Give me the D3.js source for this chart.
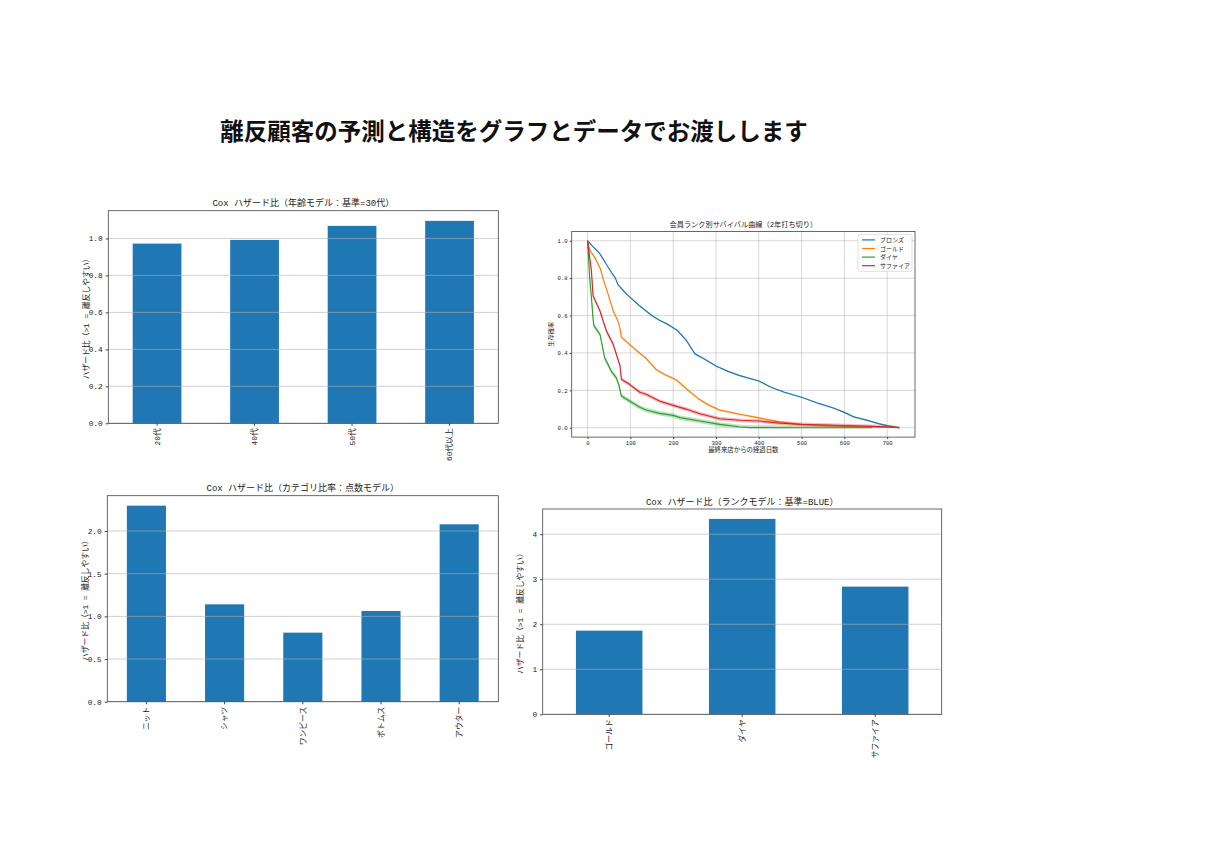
<!DOCTYPE html>
<html>
<head>
<meta charset="utf-8">
<script src="https://cdn.jsdelivr.net/npm/d3@7"></script>
<style>
  body { margin: 0; background: #fff; }
  svg { display: block; }
  text { font-family: "Liberation Mono", "Noto Sans CJK JP", monospace; fill: #222; }
  text.main { font-family: "Noto Sans CJK JP", "Noto Sans", sans-serif; }
</style>
</head>
<body>
<svg id="fig" width="1220" height="862"></svg>
<script>
// ---- data ----
const pageTitle = "離反顧客の予測と構造をグラフとデータでお渡しします";

const ageCategories = ["20代", "40代", "50代", "60代以上"];
const ageHazard = [0.972, 0.992, 1.068, 1.095];
const ageTicks = [0.0, 0.2, 0.4, 0.6, 0.8, 1.0];

const itemCategories = ["ニット", "シャツ", "ワンピース", "ボトムス", "アウター"];
const itemHazard = [2.297, 1.141, 0.809, 1.063, 2.079];
const itemTicks = [0.0, 0.5, 1.0, 1.5, 2.0];

const rankCategories = ["ゴールド", "ダイヤ", "サファイア"];
const rankHazard = [1.858, 4.34, 2.836];
const rankTicks = [0, 1, 2, 3, 4];

const survivalNames = ["ブロンズ", "ゴールド", "ダイヤ", "サファイア"];
const survivalColors = ["#1f77b4", "#ff7f0e", "#2ca02c", "#d62728"];
const bandHalfWidth = [0.004, 0.006, 0.012, 0.01];
const dayTicks = [0, 100, 200, 300, 400, 500, 600, 700];
const probTicks = [0.0, 0.2, 0.4, 0.6, 0.8, 1.0];

const bronzeDays = [0, 10, 29, 45, 56, 65, 71, 85, 98, 120, 150, 168, 190, 210, 230, 251, 275, 300, 330, 354, 400, 430, 460, 500, 540, 576, 600, 622, 650, 680, 700, 729];
const bronzeSurv = [1.0, 0.975, 0.93, 0.87, 0.83, 0.80, 0.765, 0.73, 0.70, 0.655, 0.60, 0.575, 0.55, 0.52, 0.47, 0.395, 0.365, 0.33, 0.30, 0.28, 0.25, 0.215, 0.19, 0.163, 0.13, 0.104, 0.082, 0.058, 0.042, 0.022, 0.011, 0.0];

const goldDays = [0, 5, 17, 30, 36, 50, 60, 71, 76, 79, 98, 122, 137, 161, 180, 208, 230, 258, 280, 309, 356, 400, 448, 495, 550, 600, 650, 700, 730];
const goldSurv = [1.0, 0.95, 0.91, 0.85, 0.80, 0.70, 0.625, 0.57, 0.53, 0.485, 0.446, 0.398, 0.37, 0.31, 0.285, 0.255, 0.21, 0.157, 0.125, 0.094, 0.072, 0.053, 0.031, 0.018, 0.012, 0.008, 0.005, 0.003, 0.0];

const diamondDays = [0, 5, 9, 13, 15, 29, 40, 56, 67, 73, 79, 98, 122, 137, 168, 200, 216, 262, 309, 356, 380, 500, 600, 665];
const diamondSurv = [1.0, 0.80, 0.70, 0.58, 0.545, 0.50, 0.375, 0.30, 0.268, 0.23, 0.17, 0.143, 0.11, 0.095, 0.077, 0.066, 0.054, 0.036, 0.018, 0.004, 0.001, 0.0, 0.0, 0.0];

const sapphireDays = [0, 9, 13, 29, 44, 60, 71, 76, 79, 98, 122, 137, 168, 200, 230, 262, 309, 356, 400, 450, 500, 600, 700, 728];
const sapphireSurv = [1.0, 0.84, 0.705, 0.625, 0.518, 0.446, 0.366, 0.33, 0.26, 0.232, 0.19, 0.179, 0.143, 0.12, 0.10, 0.075, 0.048, 0.04, 0.036, 0.025, 0.018, 0.012, 0.005, 0.0];

const survivalDays = [bronzeDays, goldDays, diamondDays, sapphireDays];
const survivalProb = [bronzeSurv, goldSurv, diamondSurv, sapphireSurv];

const yLabelHazard = "ハザード比（>1 = 離反しやすい）";

// ---- drawing ----
const svg = d3.select("#fig");
const tickFont = "'Liberation Mono', 'Noto Sans CJK JP', monospace";

svg.append("text")
    .attr("class", "main")
    .attr("x", 514).attr("y", 140)
    .attr("text-anchor", "middle")
    .attr("font-size", "23.5px")
    .attr("font-weight", "bold")
    .style("fill", "#111")
    .text(pageTitle);

function frame(g, box) {
    g.append("rect")
        .attr("x", box.left).attr("y", box.top)
        .attr("width", box.right - box.left).attr("height", box.bottom - box.top)
        .attr("fill", "none").attr("stroke", "#444").attr("stroke-width", 0.8);
}

function barChart(box, cats, vals, yMax, ticks, fmt, title) {
    const g = svg.append("g");

    const x = d3.scaleBand()
        .domain(cats)
        .range([box.left, box.right])
        .paddingInner(0.5)
        .paddingOuter(0.25);

    const y = d3.scaleLinear()
        .domain([0, yMax])
        .range([box.bottom, box.top]);

    // Bars
    g.selectAll("rect.bar")
        .data(vals)
        .enter()
        .append("rect")
        .attr("class", "bar")
        .attr("x", (d, i) => x(cats[i]))
        .attr("y", d => y(d))
        .attr("width", x.bandwidth())
        .attr("height", d => y(0) - y(d))
        .attr("fill", "#1f77b4");

    // Horizontal grid on top of the bars (matplotlib default)
    g.selectAll("line.grid")
        .data(ticks)
        .enter()
        .append("line")
        .attr("x1", box.left).attr("x2", box.right)
        .attr("y1", d => y(d)).attr("y2", d => y(d))
        .attr("stroke", "#b0b0b0")
        .attr("stroke-opacity", 0.75)
        .attr("stroke-width", 0.8);

    // Y axis
    const yAxis = g.append("g")
        .attr("transform", `translate(${box.left}, 0)`)
        .call(d3.axisLeft(y).tickValues(ticks).tickFormat(fmt).tickSize(2.6).tickPadding(3));
    yAxis.select(".domain").remove();
    yAxis.selectAll("line").attr("stroke", "#444");
    yAxis.selectAll("text").attr("font-size", "7.8px").style("fill", "#222")
        .attr("font-family", tickFont);

    // X axis, labels rotated
    const xAxis = g.append("g")
        .attr("transform", `translate(0, ${box.bottom})`)
        .call(d3.axisBottom(x).tickSize(2.6).tickPadding(0));
    xAxis.select(".domain").remove();
    xAxis.selectAll("line").attr("stroke", "#444");
    xAxis.selectAll("text")
        .attr("font-size", "7.8px")
        .attr("font-family", tickFont)
        .style("fill", "#222")
        .attr("text-anchor", "end")
        .attr("dy", "0.35em")
        .attr("transform", "translate(0, 5) rotate(-90)")
        .attr("x", 0).attr("y", 0);

    frame(g, box);

    g.append("text")
        .attr("x", (box.left + box.right) / 2)
        .attr("y", box.top - 4.5)
        .attr("text-anchor", "middle")
        .attr("font-size", "9px")
        .text(title);

    g.append("text")
        .attr("transform", `translate(${box.left - 22}, ${(box.top + box.bottom) / 2}) rotate(-90)`)
        .attr("text-anchor", "middle")
        .attr("dy", "0.35em")
        .attr("font-size", "7.8px")
        .text(yLabelHazard);
}

barChart({ left: 108.3, right: 498.3, top: 210.7, bottom: 423.3 },
    ageCategories, ageHazard, 1.15, ageTicks, d3.format(".1f"),
    "Cox ハザード比（年齢モデル：基準=30代）");

barChart({ left: 107.3, right: 498.3, top: 495.7, bottom: 701.7 },
    itemCategories, itemHazard, 2.414, itemTicks, d3.format(".1f"),
    "Cox ハザード比（カテゴリ比率：点数モデル）");

barChart({ left: 542.7, right: 941.7, top: 509, bottom: 714.3 },
    rankCategories, rankHazard, 4.56, rankTicks, d3.format("d"),
    "Cox ハザード比（ランクモデル：基準=BLUE）");

// ---- survival curves ----
function survivalChart(box) {
    const g = svg.append("g");

    const x = d3.scaleLinear().domain([-37, 765]).range([box.left, box.right]);
    const y = d3.scaleLinear().domain([-0.05, 1.05]).range([box.bottom, box.top]);

    // Grid (both directions)
    g.selectAll("line.gx").data(dayTicks).enter().append("line")
        .attr("x1", d => x(d)).attr("x2", d => x(d))
        .attr("y1", box.top).attr("y2", box.bottom)
        .attr("stroke", "#b0b0b0").attr("stroke-opacity", 0.75).attr("stroke-width", 0.7);
    g.selectAll("line.gy").data(probTicks).enter().append("line")
        .attr("x1", box.left).attr("x2", box.right)
        .attr("y1", d => y(d)).attr("y2", d => y(d))
        .attr("stroke", "#b0b0b0").attr("stroke-opacity", 0.75).attr("stroke-width", 0.7);

    const clamp = v => Math.max(0, Math.min(1, v));

    survivalNames.forEach((name, k) => {
        const pts = survivalDays[k].map((d, i) => [d, survivalProb[k][i]]);
        const hw = bandHalfWidth[k];

        const area = d3.area()
            .x(p => x(p[0]))
            .y0(p => y(clamp(p[1] - hw)))
            .y1(p => y(clamp(p[1] + hw)));
        g.append("path")
            .datum(pts)
            .attr("d", area)
            .attr("fill", survivalColors[k])
            .attr("fill-opacity", 0.3);

        const line = d3.line().x(p => x(p[0])).y(p => y(p[1]));
        g.append("path")
            .datum(pts)
            .attr("d", line)
            .attr("fill", "none")
            .attr("stroke", survivalColors[k])
            .attr("stroke-width", 1.2)
            .attr("stroke-linejoin", "round");
    });

    const xAxis = g.append("g")
        .attr("transform", `translate(0, ${box.bottom})`)
        .call(d3.axisBottom(x).tickValues(dayTicks).tickSize(2).tickPadding(2));
    xAxis.select(".domain").remove();
    xAxis.selectAll("line").attr("stroke", "#444");
    xAxis.selectAll("text").attr("font-size", "5.6px").style("fill", "#222")
        .attr("font-family", tickFont);

    const yAxis = g.append("g")
        .attr("transform", `translate(${box.left}, 0)`)
        .call(d3.axisLeft(y).tickValues(probTicks).tickFormat(d3.format(".1f")).tickSize(2).tickPadding(2));
    yAxis.select(".domain").remove();
    yAxis.selectAll("line").attr("stroke", "#444");
    yAxis.selectAll("text").attr("font-size", "5.6px").style("fill", "#222")
        .attr("font-family", tickFont);

    frame(g, box);

    g.append("text")
        .attr("x", (box.left + box.right) / 2).attr("y", box.top - 4)
        .attr("text-anchor", "middle").attr("font-size", "7.2px")
        .text("会員ランク別サバイバル曲線（2年打ち切り）");

    g.append("text")
        .attr("x", (box.left + box.right) / 2).attr("y", box.bottom + 14.5)
        .attr("text-anchor", "middle").attr("font-size", "6.4px")
        .text("最終来店からの経過日数");

    g.append("text")
        .attr("transform", `translate(${box.left - 21}, ${(box.top + box.bottom) / 2}) rotate(-90)`)
        .attr("text-anchor", "middle").attr("dy", "0.35em").attr("font-size", "6.2px")
        .text("生存確率");

    // Legend
    const lg = g.append("g").attr("transform", `translate(${box.right - 57}, ${box.top + 3})`);
    lg.append("rect")
        .attr("width", 54).attr("height", 37).attr("rx", 2)
        .attr("fill", "#fff").attr("fill-opacity", 0.8)
        .attr("stroke", "#ccc").attr("stroke-width", 0.6);
    survivalNames.forEach((name, k) => {
        const yy = 5.5 + k * 8.6;
        lg.append("line")
            .attr("x1", 4).attr("x2", 17).attr("y1", yy).attr("y2", yy)
            .attr("stroke", survivalColors[k]).attr("stroke-width", 1.2);
        lg.append("text")
            .attr("x", 22).attr("y", yy).attr("dy", "0.35em")
            .attr("font-size", "6px")
            .text(name);
    });
}

survivalChart({ left: 571.7, right: 915, top: 231.4, bottom: 437.1 });
</script>
</body>
</html>
